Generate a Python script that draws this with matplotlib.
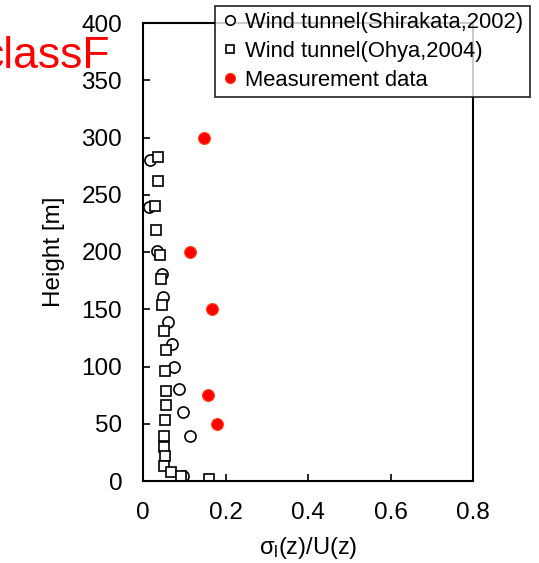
import matplotlib.pyplot as plt

# -----------------------------
# Data
# -----------------------------
shirakata_x = [0.017, 0.014, 0.033, 0.046, 0.049, 0.060, 0.071, 0.074, 0.088, 0.096, 0.113, 0.098]
shirakata_z = [280, 239, 201, 181, 161, 139, 120, 100, 80, 60, 39, 4]

ohya_x = [0.037, 0.037, 0.029, 0.032, 0.040, 0.044, 0.046, 0.050, 0.055, 0.053,
          0.056, 0.056, 0.053, 0.051, 0.050, 0.053, 0.050, 0.067, 0.092, 0.161]
ohya_z = [283, 262, 240, 219, 197, 176, 154, 131, 114, 96,
          79, 66, 53, 39, 30, 22, 13, 8, 4.4, 1.5]

meas_x = [0.147, 0.113, 0.168, 0.157, 0.179]
meas_z = [300, 200, 150, 75, 50]

x_ticks = [0, 0.2, 0.4, 0.6, 0.8]
x_tick_labels = ["0", "0.2", "0.4", "0.6", "0.8"]
y_ticks = [0, 50, 100, 150, 200, 250, 300, 350, 400]

plt.rcParams["font.family"] = ["Liberation Sans", "DejaVu Sans"]
plt.rcParams["mathtext.fontset"] = "custom"
plt.rcParams["mathtext.rm"] = "Liberation Sans"
plt.rcParams["mathtext.it"] = "Liberation Sans"

W, H = 539, 563
fig = plt.figure(figsize=(W / 100, H / 100), dpi=100)
ax = fig.add_axes([143 / W, 1 - 481 / H, 330 / W, 458 / H])

ax.plot(shirakata_x, shirakata_z, "o", ms=8, mfc="white", mec="black", mew=1.2,
        ls="none", label="Wind tunnel(Shirakata,2002)")
ax.plot(ohya_x, ohya_z, "s", ms=6.5, mfc="white", mec="black", mew=1.2,
        ls="none", label="Wind tunnel(Ohya,2004)")
ax.plot(meas_x, meas_z, "o", ms=8.5, mfc="#ff0000", mec="#ff3a10", mew=0.8,
        ls="none", label="Measurement data")

ax.set_xlim(0, 0.8)
ax.set_ylim(0, 400)
ax.set_xticks(x_ticks)
ax.set_xticklabels(x_tick_labels)
ax.set_yticks(y_ticks)
ax.tick_params(direction="in", length=5, width=1.2, labelsize=17.5)
ax.tick_params(axis="x", pad=15)
ax.tick_params(axis="y", pad=15)
for s in ax.spines.values():
    s.set_linewidth(1.5)

ax.set_xlabel(r"σ$_\mathrm{l}$(z)/U(z)", fontsize=17, labelpad=8)
ax.set_ylabel("Height [m]", fontsize=17.5, labelpad=12)

leg = ax.legend(loc="upper left", bbox_to_anchor=(215 / W, 1 - 6 / H),
                bbox_transform=fig.transFigure, fontsize=15.8, frameon=True,
                fancybox=False, borderpad=0.28, handlelength=0.8,
                handletextpad=0.3, labelspacing=0.36, borderaxespad=0,
                markerscale=0.85)
leg.get_frame().set_edgecolor("black")
leg.get_frame().set_linewidth(1.3)
leg.set_zorder(10)

fig.text(110 / W, 1 - 68 / H, "classF", color="red", fontsize=32,
         ha="right", va="baseline")

fig.savefig("out.png", dpi=100)
